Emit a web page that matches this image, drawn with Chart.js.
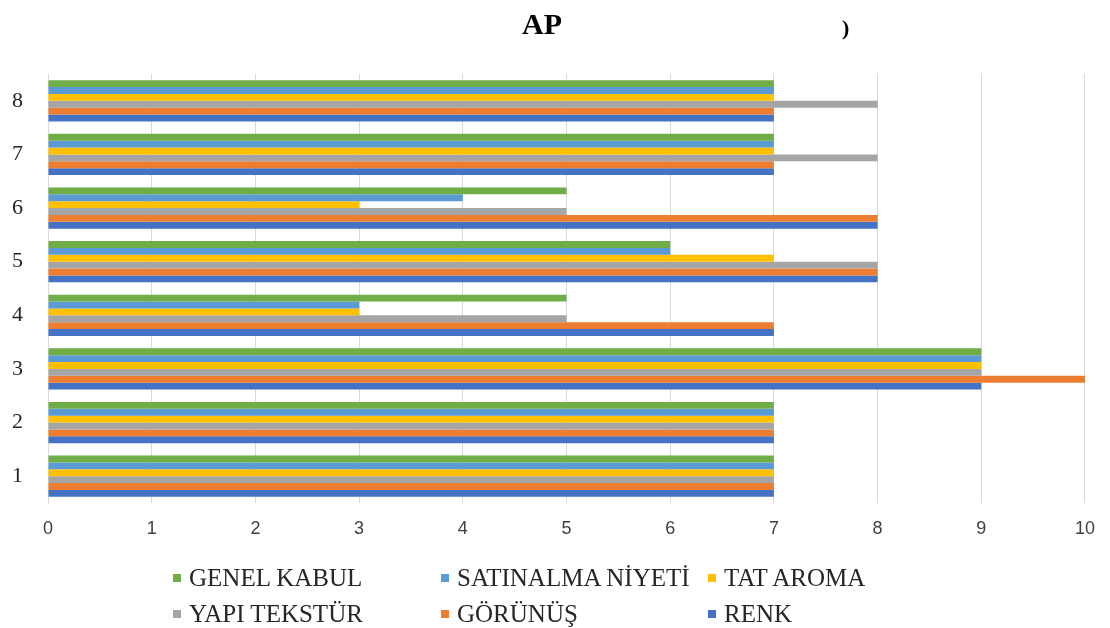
<!DOCTYPE html>
<html>
<head>
<meta charset="utf-8">
<script src="https://cdn.jsdelivr.net/npm/chart.js@4"></script>
<style>
  html, body { margin: 0; padding: 0; background: #fff; }
  #wrap { position: relative; width: 1110px; height: 628px; overflow: hidden; }
  #legend {
    position: absolute; left: 173px; top: 560px;
    display: grid; grid-template-columns: 268px 267px 260px;
    grid-auto-rows: 36px;
    font-family: "Liberation Serif", "DejaVu Serif", serif; font-size: 25px; color: #262626;
  }
  .item { display: flex; align-items: center; white-space: nowrap; height: 36px; }
  .sw { width: 8px; height: 8px; margin-right: 8px; flex: none; }
</style>
</head>
<body>
<div id="wrap">
  <canvas id="c" width="1110" height="628"></canvas>
  <div id="legend"></div>
</div>
<script>
// Sample numbers 1..8, scores per sensory attribute
const categories = ['1', '2', '3', '4', '5', '6', '7', '8'];
const renk       = [7, 7, 9, 7, 8, 8, 7, 7];
const gorunus    = [7, 7, 10, 7, 8, 8, 7, 7];
const yapiTekstur = [7, 7, 9, 5, 8, 5, 8, 8];
const tatAroma   = [7, 7, 9, 3, 7, 3, 7, 7];
const satinalma  = [7, 7, 9, 3, 6, 4, 7, 7];
const genelKabul = [7, 7, 9, 5, 6, 5, 7, 7];
const xTicks = [0, 1, 2, 3, 4, 5, 6, 7, 8, 9, 10];

// Top-to-bottom order inside each group; categories listed from the top (8) down
const series = [
  { label: 'GENEL KABUL',      data: genelKabul,  color: '#70AD47' },
  { label: 'SATINALMA NİYETİ', data: satinalma,   color: '#5B9BD5' },
  { label: 'TAT AROMA',        data: tatAroma,    color: '#FFC000' },
  { label: 'YAPI TEKSTÜR',     data: yapiTekstur, color: '#A5A5A5' },
  { label: 'GÖRÜNÜŞ',          data: gorunus,     color: '#ED7D31' },
  { label: 'RENK',             data: renk,        color: '#4472C4' }
];

const titlePieces = {
  id: 'titlePieces',
  afterDraw(chart) {
    const ctx = chart.ctx;
    ctx.save();
    ctx.fillStyle = '#000';
    ctx.font = 'bold 30px "Liberation Serif", serif';
    ctx.textBaseline = 'middle';
    ctx.textAlign = 'left';
    ctx.fillText('AP', 522, 26);
    ctx.font = 'bold 22px "Liberation Serif", serif';
    ctx.fillText(')', 842, 29);
    ctx.restore();
  }
};

new Chart(document.getElementById('c'), {
  type: 'bar',
  data: {
    labels: categories.slice().reverse(),
    datasets: series.map(s => ({
      label: s.label,
      data: s.data.slice().reverse(),
      backgroundColor: s.color,
      borderWidth: 0,
      categoryPercentage: 0.77,
      barPercentage: 1
    }))
  },
  options: {
    indexAxis: 'y',
    responsive: false,
    animation: false,
    layout: { padding: { left: 0, right: 21, top: 74, bottom: 85 } },
    plugins: { legend: { display: false }, title: { display: false }, tooltip: { enabled: false } },
    scales: {
      x: {
        min: 0, max: 10,
        afterBuildTicks(axis) { axis.ticks = xTicks.map(v => ({ value: v })); },
        afterFit(axis) { axis.height = 40; },
        grid: { color: '#d9d9d9', lineWidth: 1, drawTicks: false },
        border: { display: false },
        ticks: {
          padding: 15,
          color: '#404040',
          font: { family: '"Liberation Sans", Arial, sans-serif', size: 18 }
        }
      },
      y: {
        afterFit(axis) { axis.width = 48; },
        grid: { display: false, drawTicks: false },
        border: { display: true, color: '#d9d9d9', width: 1 },
        ticks: {
          padding: 25,
          color: '#262626',
          font: { family: '"Liberation Serif", serif', size: 22 }
        }
      }
    }
  },
  plugins: [titlePieces]
});

const legend = document.getElementById('legend');
series.forEach(s => {
  const item = document.createElement('div');
  item.className = 'item';
  const sw = document.createElement('span');
  sw.className = 'sw';
  sw.style.background = s.color;
  const tx = document.createElement('span');
  tx.textContent = s.label;
  item.appendChild(sw);
  item.appendChild(tx);
  legend.appendChild(item);
});
</script>
</body>
</html>
